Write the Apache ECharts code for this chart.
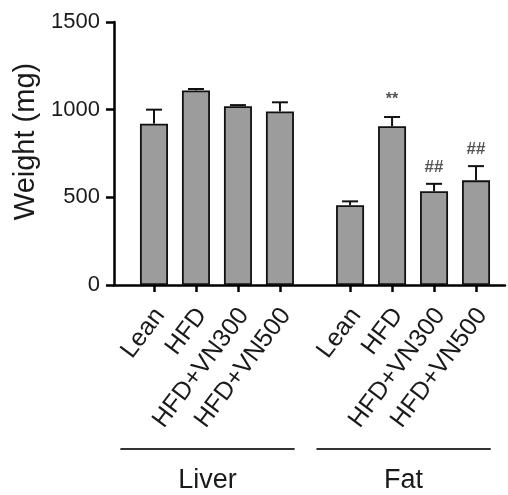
<!DOCTYPE html>
<html><head><meta charset="utf-8">
<script src="https://cdn.jsdelivr.net/npm/echarts@6/dist/echarts.min.js"></script>
<style>html,body{margin:0;padding:0;background:#fff}#c{width:508px;height:495px}</style>
</head><body><div id="c"></div>
<script>
const groups = ['Liver', 'Fat'];
const categories = ['Lean', 'HFD', 'HFD+VN300', 'HFD+VN500'];
const liverMean = [920, 1110, 1020, 990];
const liverErr = [80, 8, 6, 52];
const fatMean = [455, 905, 535, 597];
const fatErr = [22, 53, 42, 81];
const liverMarks = ['', '', '', ''];
const fatMarks = ['', '**', '##', '##'];
const yTicks = [0, 500, 1000, 1500];

const groupStep = 4.67; // category slots per group incl. gap
const FONT = 'Liberation Sans, Arial, sans-serif';

const means = [liverMean, fatMean];
const errs = [liverErr, fatErr];
const marks = [liverMarks, fatMarks];
const positions = [], names = [], barData = [], errData = [];
groups.forEach((g, gi) => {
  categories.forEach((c, ci) => {
    const p = +(gi * groupStep + ci).toFixed(2);
    positions.push(p); names.push(c);
    barData.push([p, means[gi][ci]]);
    errData.push({value: [p, means[gi][ci], means[gi][ci] + errs[gi][ci]], mark: marks[gi][ci]});
  });
});

const chart = echarts.init(document.getElementById('c'), null, {renderer: 'canvas'});
const option = {
  animation: false,
  grid: {left: 114, right: 3, top: 22, bottom: 210},
  xAxis: {
    type: 'value', min: -0.952, max: 8.36,
    splitLine: {show: false},
    axisLine: {show: true, onZero: false, lineStyle: {color: '#000', width: 2.5}},
    axisTick: {show: true, customValues: positions, length: 7, lineStyle: {color: '#000', width: 2.5}},
    axisLabel: {show: false}
  },
  yAxis: {
    type: 'value', min: 0, max: 1500, interval: 500,
    name: 'Weight (mg)', nameLocation: 'middle', nameGap: 67, nameRotate: 90,
    nameTextStyle: {fontFamily: FONT, fontSize: 29, color: '#1a1a1a', padding: [0, 0, 0, 24]},
    splitLine: {show: false},
    axisLine: {show: true, onZero: false, lineStyle: {color: '#000', width: 2.5}},
    axisTick: {show: true, length: 8, lineStyle: {color: '#000', width: 2.5}},
    axisLabel: {margin: 14, fontFamily: FONT, fontSize: 22, color: '#1a1a1a',
      formatter: v => yTicks.includes(v) ? String(v) : ''}
  },
  series: [
    {
      type: 'bar', data: barData, barWidth: 28,
      itemStyle: {color: '#9c9c9c', borderColor: '#111', borderWidth: 1.8},
      z: 2
    },
    {
      type: 'custom', z: 3,
      data: errData,
      renderItem: (params, api) => {
        const x = api.value(0);
        const top = api.coord([x, api.value(2)]);
        const base = api.coord([x, api.value(1)]);
        const cap = 8;
        const mark = errData[params.dataIndex].mark;
        const children = [
          {type: 'line', shape: {x1: top[0], y1: base[1], x2: top[0], y2: top[1]}, style: {stroke: '#111', lineWidth: 2}},
          {type: 'line', shape: {x1: top[0] - cap, y1: top[1], x2: top[0] + cap, y2: top[1]}, style: {stroke: '#111', lineWidth: 2}}
        ];
        if (mark) {
          children.push({type: 'text', style: {text: mark, x: top[0], y: top[1] - 17,
            align: 'center', verticalAlign: 'middle', fontFamily: FONT,
            fontSize: mark === '**' ? 16 : 17, fontWeight: 'bold', fill: '#555'}});
        }
        return {type: 'group', children};
      }
    }
  ]
};
chart.setOption(option);

// rotated category labels and group brackets
const graphics = [];
const angle = 53 * Math.PI / 180;
positions.forEach((p, i) => {
  const pt = chart.convertToPixel({gridIndex: 0}, [p, 0]);
  graphics.push({type: 'text', x: pt[0] + 6, y: pt[1] + 26, rotation: angle,
    style: {text: names[i], align: 'right', verticalAlign: 'middle', fontFamily: FONT, fontSize: 25, fill: '#1a1a1a'}});
});
groups.forEach((g, gi) => {
  const first = gi * groupStep, last = gi * groupStep + categories.length - 1;
  const x1 = chart.convertToPixel({gridIndex: 0}, [first - 0.8, 0])[0];
  const x2 = chart.convertToPixel({gridIndex: 0}, [last + 0.35, 0])[0];
  graphics.push({type: 'line', shape: {x1, y1: 449, x2, y2: 449}, style: {stroke: '#333', lineWidth: 2}});
  graphics.push({type: 'text', style: {text: g, x: (x1 + x2) / 2, y: 481, align: 'center', verticalAlign: 'middle',
    fontFamily: FONT, fontSize: 27, fill: '#1a1a1a'}});
});
chart.setOption({graphic: graphics});
</script></body></html>
